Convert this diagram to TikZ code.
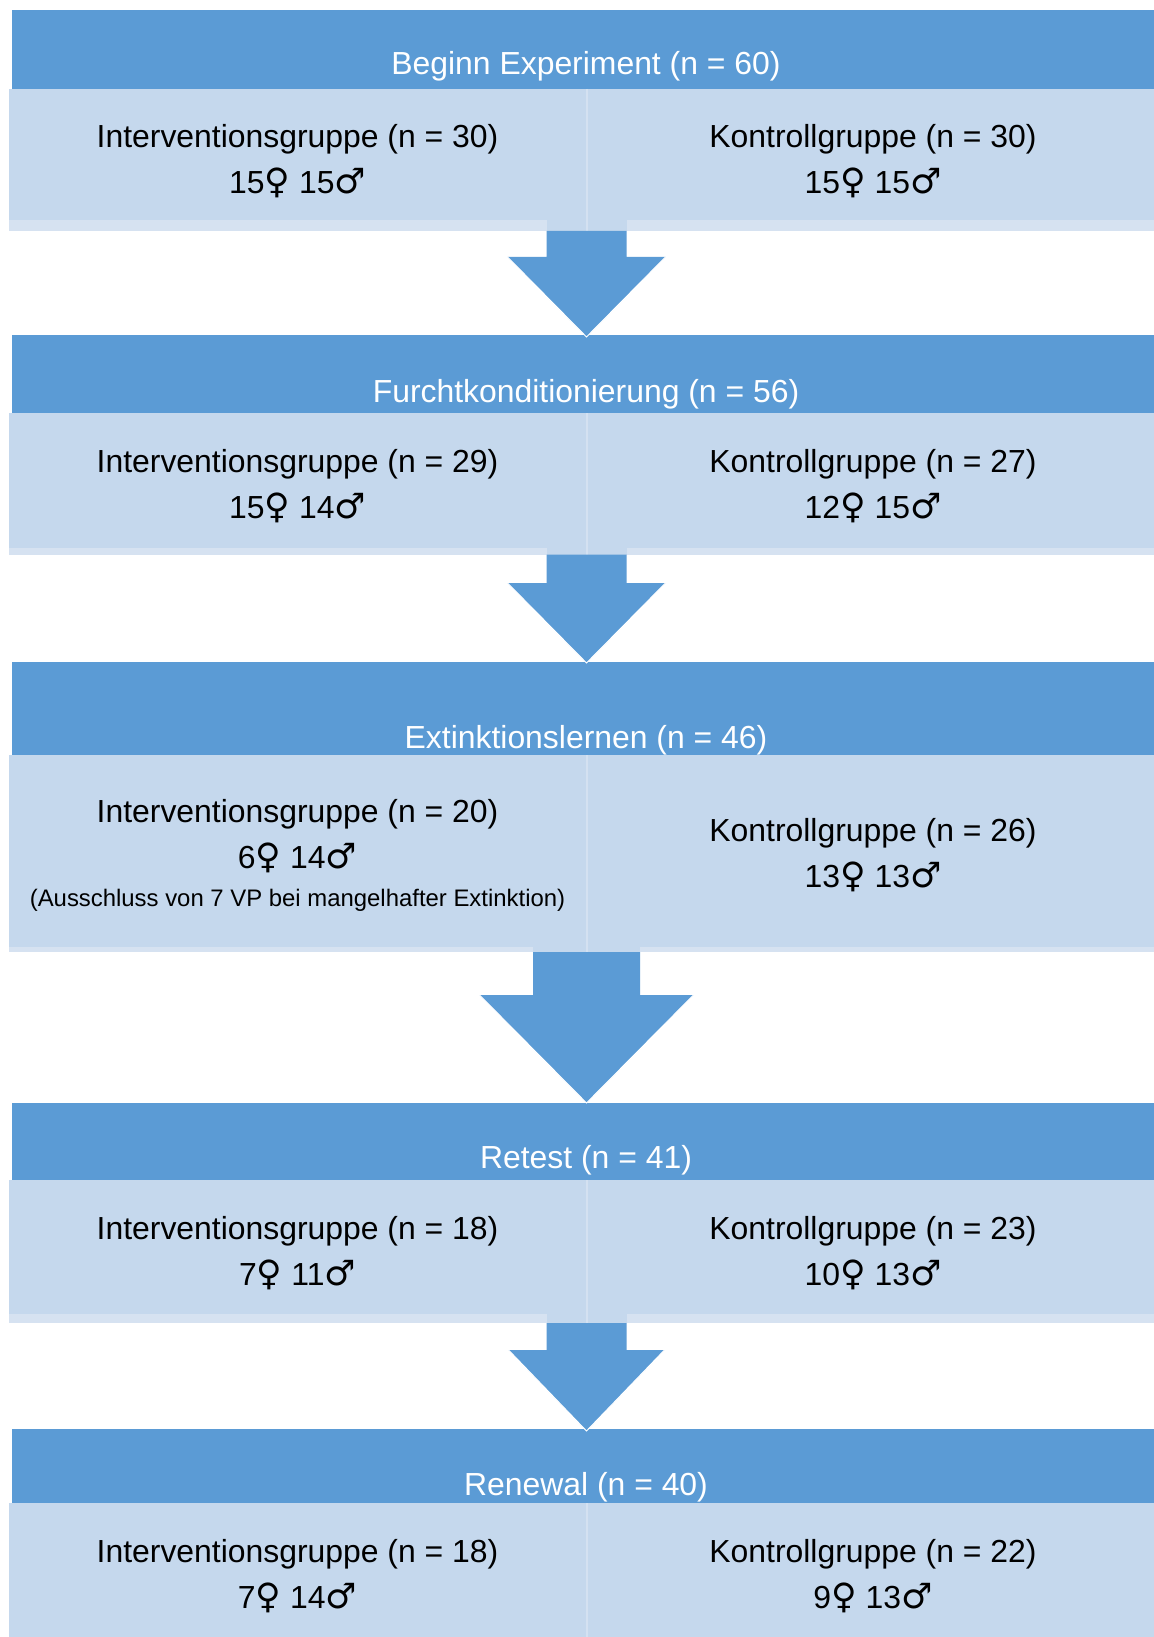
\documentclass[tikz,border=0pt]{standalone}
\usepackage{fontspec}
\setmainfont{Liberation Sans}
\newfontfamily\symfont{DejaVu Sans}
\usetikzlibrary{positioning}

\definecolor{hdrblue}{RGB}{91,155,213}
\definecolor{cellblue}{RGB}{197,216,237}
\definecolor{stripblue}{RGB}{214,226,241}
\definecolor{lineblue}{RGB}{212,225,241}

\newcommand{\femsym}{{\symfont\fontsize{17.5}{18}\selectfont ♀}}
\newcommand{\malsym}{{\symfont\fontsize{17.5}{18}\selectfont ♂}}

\tikzset{
  hdrtext/.style={anchor=base, text=white, inner sep=0pt, font=\fontsize{15.95}{18}\selectfont},
  celltext/.style={anchor=base, text=black, inner sep=0pt, font=\fontsize{15.95}{18}\selectfont},
  notetext/.style={anchor=base, text=black, inner sep=0pt, font=\fontsize{11.95}{14}\selectfont}
}

% #1 header top, #2 header bottom, #3 cell bottom, #4 strip bottom, #5 stem half width
\newcommand{\stageblock}[5]{%
  \fill[stripblue] (9,#2) rectangle (1154,#4);
  \fill[cellblue]  (9,#2) rectangle (1154,#3);
  \fill[cellblue]  ({586.5-#5},#3) rectangle ({586.5+#5},#4);
  \fill[hdrblue]   (11.5,#1) rectangle (1154,#2);
  \draw[lineblue, line width=1pt] (586.5,#2) -- (586.5,#4);
}
% #1 stem top, #2 head top, #3 tip, #4 stem half width, #5 head half width
\newcommand{\stagearrow}[5]{%
  \fill[hdrblue] ({586.5-#4},#1) -- ({586.5+#4},#1) -- ({586.5+#4},#2) -- ({586.5+#5},#2)
     -- (586.5,#3) -- ({586.5-#5},#2) -- ({586.5-#4},#2) -- cycle;
  \draw[white, line width=0.5pt] ({586.5-#5},#2) -- (586.5,#3) -- ({586.5+#5},#2);
}

\begin{document}
\begin{tikzpicture}[x=0.5pt, y=-0.5pt]
    \useasboundingbox (0,0) rectangle (1154,1637);
    \fill[white] (0,0) rectangle (1154,1637);

    \stageblock{10}{89}{220}{231}{40}
    \stageblock{335}{413}{548}{554.5}{40}
    \stageblock{662}{755}{947}{952}{53.5}
    \stageblock{1102.5}{1180}{1314}{1323}{40}
    \stageblock{1429}{1503}{1637}{1637}{40}

    \stagearrow{231}{257}{337}{40}{79}
    \stagearrow{554.5}{583}{663}{40}{79}
    \stagearrow{952}{995}{1103}{53.5}{107}
    \stagearrow{1323}{1350}{1431}{40}{78}

    % Beginn
    \node[hdrtext]  (beginn)  at (586,75)       {Beginn Experiment (n = 60)};
    \node[celltext] (int1)    at (297.5,147.5)  {Interventionsgruppe (n = 30)};
    \node[celltext] (int1s)   at (297.5,193.5)  {15\femsym{} 15\malsym};
    \node[celltext] (kon1)    at (873,147.5)    {Kontrollgruppe (n = 30)};
    \node[celltext] (kon1s)   at (873,193.5)    {15\femsym{} 15\malsym};

    % Furchtkonditionierung
    \node[hdrtext]  (furcht)  at (586,402)      {Furchtkonditionierung (n = 56)};
    \node[celltext] (int2)    at (297.5,472.5)  {Interventionsgruppe (n = 29)};
    \node[celltext] (int2s)   at (297.5,518.5)  {15\femsym{} 14\malsym};
    \node[celltext] (kon2)    at (873,472.5)    {Kontrollgruppe (n = 27)};
    \node[celltext] (kon2s)   at (873,518.5)    {12\femsym{} 15\malsym};

    % Extinktion
    \node[hdrtext]  (extink)  at (586,748.5)    {Extinktionslernen (n = 46)};
    \node[celltext] (int3)    at (297.5,822)    {Interventionsgruppe (n = 20)};
    \node[celltext] (int3s)   at (297.5,868)    {6\femsym{} 14\malsym};
    \node[notetext] (int3n)   at (297.5,906)    {(Ausschluss von 7 VP bei mangelhafter Extinktion)};
    \node[celltext] (kon3)    at (873,841.5)    {Kontrollgruppe (n = 26)};
    \node[celltext] (kon3s)   at (873,887.5)    {13\femsym{} 13\malsym};

    % Retest
    \node[hdrtext]  (retest)  at (586,1168.5)   {Retest (n = 41)};
    \node[celltext] (int4)    at (297.5,1239.5) {Interventionsgruppe (n = 18)};
    \node[celltext] (int4s)   at (297.5,1285.5) {7\femsym{} 11\malsym};
    \node[celltext] (kon4)    at (873,1239.5)   {Kontrollgruppe (n = 23)};
    \node[celltext] (kon4s)   at (873,1285.5)   {10\femsym{} 13\malsym};

    % Renewal
    \node[hdrtext]  (renewal) at (586,1495.5)   {Renewal (n = 40)};
    \node[celltext] (int5)    at (297.5,1562.5) {Interventionsgruppe (n = 18)};
    \node[celltext] (int5s)   at (297.5,1608.5) {7\femsym{} 14\malsym};
    \node[celltext] (kon5)    at (873,1562.5)   {Kontrollgruppe (n = 22)};
    \node[celltext] (kon5s)   at (873,1608.5)   {9\femsym{} 13\malsym};
\end{tikzpicture}
\end{document}
